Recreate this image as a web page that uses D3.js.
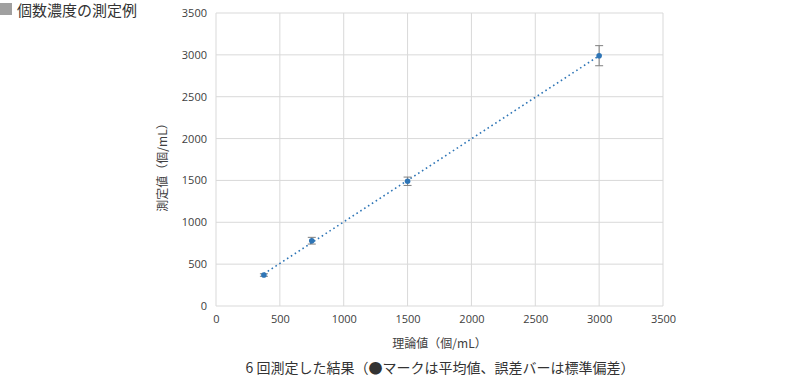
<!DOCTYPE html>
<html>
<head>
<meta charset="utf-8">
<script src="https://cdn.jsdelivr.net/npm/d3@7"></script>
<style>
  body { margin: 0; background: #fff; }
  text { font-family: "Open Sans", "Noto Sans CJK JP", sans-serif; }
  .jp { font-family: "Noto Sans CJK JP", sans-serif; }
</style>
</head>
<body>
<div id="chart"></div>
<script>
// theoretical values (x), mean measured values (y), std dev
const theory = [375, 750, 1500, 3000];
const measured = [370, 780, 1490, 2990];
const stdev = [15, 40, 50, 120];
const ticks = [0, 500, 1000, 1500, 2000, 2500, 3000, 3500];

const W = 800, H = 378;
const m = { left: 216, right: 137, top: 13, bottom: 72 };

const svg = d3.select("#chart").append("svg")
  .attr("width", W).attr("height", H);

const x = d3.scaleLinear().domain([0, 3500]).range([m.left, W - m.right]);
const y = d3.scaleLinear().domain([0, 3500]).range([H - m.bottom, m.top]);
const fmt = d3.format("d");

// gridlines
svg.append("g").selectAll("line").data(ticks).enter().append("line")
  .attr("x1", x(0)).attr("x2", x(3500))
  .attr("y1", d => y(d)).attr("y2", d => y(d))
  .attr("stroke", "#d9d9d9").attr("stroke-width", 1);
svg.append("g").selectAll("line").data(ticks).enter().append("line")
  .attr("y1", y(0)).attr("y2", y(3500))
  .attr("x1", d => x(d)).attr("x2", d => x(d))
  .attr("stroke", "#d9d9d9").attr("stroke-width", 1);

// axes labels
const yAxis = svg.append("g").attr("transform", `translate(${x(0) - 9},0)`)
  .call(d3.axisLeft(y).tickValues(ticks).tickFormat(fmt).tickSize(0).tickPadding(0));
yAxis.select(".domain").remove();
yAxis.selectAll("text").attr("font-size", 11).attr("fill", "#404040");

const xAxis = svg.append("g").attr("transform", `translate(0,${y(0) + 9})`)
  .call(d3.axisBottom(x).tickValues(ticks).tickFormat(fmt).tickSize(0).tickPadding(0));
xAxis.select(".domain").remove();
xAxis.selectAll("text").attr("font-size", 11).attr("fill", "#404040").attr("dy", "0.75em");

// linear trendline
const mx = d3.mean(theory), my = d3.mean(measured);
const slope = d3.sum(theory.map((t, i) => (t - mx) * (measured[i] - my))) /
  d3.sum(theory.map(t => (t - mx) * (t - mx)));
const icpt = my - slope * mx;
const x0 = d3.min(theory), x1 = d3.max(theory);
svg.append("line")
  .attr("x1", x(x0)).attr("y1", y(icpt + slope * x0))
  .attr("x2", x(x1)).attr("y2", y(icpt + slope * x1))
  .attr("stroke", "#2e75b6").attr("stroke-width", 1.6)
  .attr("stroke-dasharray", "1.6,3");

// error bars
const eb = svg.append("g").attr("stroke", "#7f7f7f").attr("stroke-width", 1);
theory.forEach((t, i) => {
  eb.append("line").attr("x1", x(t)).attr("x2", x(t))
    .attr("y1", y(measured[i] - stdev[i])).attr("y2", y(measured[i] + stdev[i]));
  [-1, 1].forEach(s => {
    eb.append("line").attr("x1", x(t) - 4).attr("x2", x(t) + 4)
      .attr("y1", y(measured[i] + s * stdev[i])).attr("y2", y(measured[i] + s * stdev[i]));
  });
});

// markers
svg.append("g").selectAll("circle").data(theory).enter().append("circle")
  .attr("cx", d => x(d)).attr("cy", (d, i) => y(measured[i]))
  .attr("r", 2.8)
  .attr("fill", "#2e75b6");

// axis titles
svg.append("text").attr("class", "jp")
  .attr("x", (x(0) + x(3500)) / 2).attr("y", 348)
  .attr("text-anchor", "middle").attr("font-size", 12).attr("fill", "#404040")
  .text("理論値（個/mL）");
svg.append("text").attr("class", "jp")
  .attr("transform", `translate(167,${(y(0) + y(3500)) / 2 + 5}) rotate(-90)`)
  .attr("text-anchor", "middle").attr("font-size", 12).attr("fill", "#404040")
  .text("測定値（個/mL）");

// caption
svg.append("text").attr("class", "jp")
  .attr("x", 440).attr("y", 373)
  .attr("text-anchor", "middle").attr("font-size", 14).attr("fill", "#333")
  .text("6 回測定した結果（●マークは平均値、誤差バーは標準偏差）");

// title
svg.append("rect").attr("x", 0).attr("y", 3).attr("width", 12).attr("height", 12)
  .attr("fill", "#a0a0a0");
svg.append("text").attr("class", "jp")
  .attr("x", 17).attr("y", 16).attr("font-size", 15).attr("fill", "#333")
  .text("個数濃度の測定例");
</script>
</body>
</html>
